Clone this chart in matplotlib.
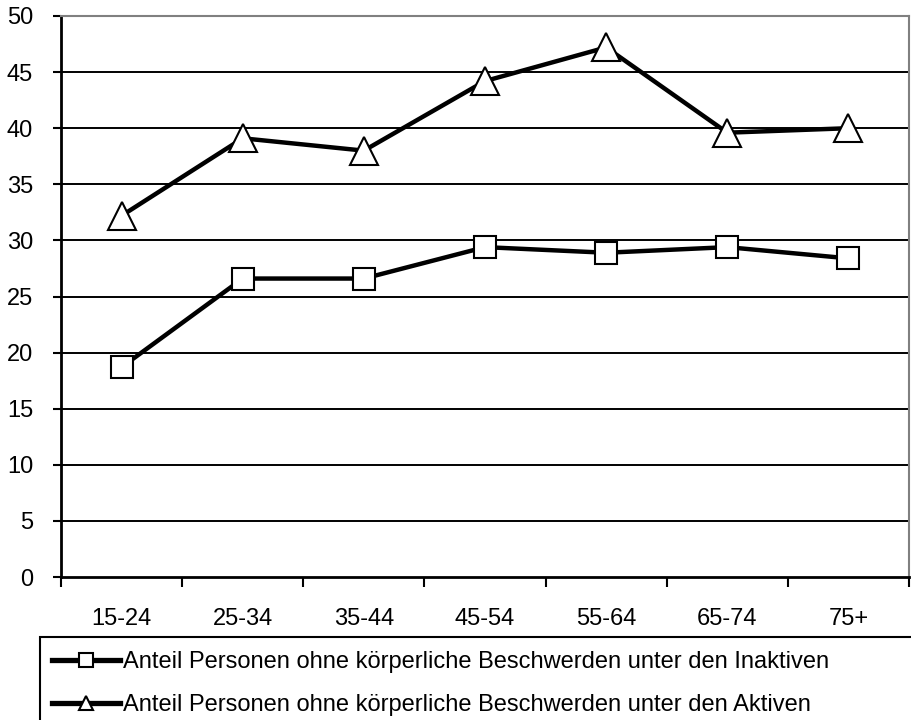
import matplotlib
matplotlib.use("Agg")
import matplotlib.pyplot as plt
from matplotlib.patches import Rectangle

plt.rcParams["font.family"] = ["Liberation Sans", "DejaVu Sans"]

age_groups = ["15-24", "25-34", "35-44", "45-54", "55-64", "65-74", "75+"]
inactive = [18.7, 26.6, 26.6, 29.4, 28.9, 29.4, 28.4]
active = [32.2, 39.1, 38.0, 44.2, 47.2, 39.6, 40.0]
labels = [
    "Anteil Personen ohne körperliche Beschwerden unter den Inaktiven",
    "Anteil Personen ohne körperliche Beschwerden unter den Aktiven",
]
yticks = list(range(0, 51, 5))

fig = plt.figure(figsize=(9.12, 7.2), dpi=100)
ax = fig.add_axes([61 / 912, 1 - 577 / 720, 848 / 912, 561 / 720])

x = list(range(len(age_groups)))

for y in yticks[1:-1]:
    ax.axhline(y, color="black", lw=1.4, zorder=1)

l1, = ax.plot(x, inactive, color="black", lw=3.2, marker="s", ms=16,
              mfc="white", mec="black", mew=1.5, zorder=3, label=labels[0])
l2, = ax.plot(x, active, color="black", lw=3.2, marker="^", ms=20,
              mfc="white", mec="black", mew=1.5, zorder=3, label=labels[1])

ax.set_xlim(-0.5, len(age_groups) - 0.5)
ax.set_ylim(0, 50)
ax.set_yticks(yticks)
ax.set_yticklabels([str(v) for v in yticks], fontsize=17)

# category ticks sit between the groups, labels at the centres
ax.set_xticks([i - 0.5 for i in range(len(age_groups) + 1)])
ax.set_xticklabels([])
ax.set_xticks(x, minor=True)
ax.set_xticklabels(age_groups, minor=True, fontsize=17)
ax.tick_params(axis="x", which="major", length=7, width=1.5, direction="out")
ax.tick_params(axis="x", which="minor", length=0, pad=22)
ax.tick_params(axis="y", length=6, width=1.5, direction="out", pad=14)

ax.spines["left"].set_linewidth(2)
ax.spines["bottom"].set_linewidth(2)
ax.spines["top"].set_color("#808080")
ax.spines["right"].set_color("#808080")
ax.spines["top"].set_linewidth(1.5)
ax.spines["right"].set_linewidth(1.5)

fig.patches.append(Rectangle((40 / 912, -0.05), 0.99, 1 - 637 / 720 + 0.05,
                             transform=fig.transFigure, fill=False,
                             edgecolor="black", lw=1.5))

leg = fig.legend(handles=[l1, l2], loc="upper left",
                 bbox_to_anchor=(52 / 912, 1 - 651 / 720),
                 frameon=False, fontsize=17, handlelength=2.9,
                 handletextpad=0.1, labelspacing=0.89, borderaxespad=0,
                 borderpad=0)
for h in leg.legend_handles:
    h.set_linewidth(3.8)
    h.set_markersize(10)
    h.set_markeredgewidth(1.5)

fig.savefig("out.png", dpi=100)
